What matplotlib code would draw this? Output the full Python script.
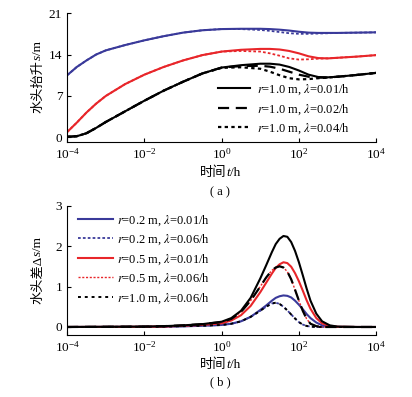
import numpy as np
import matplotlib
matplotlib.use("Agg")
import matplotlib.pyplot as plt

plt.rcParams['font.family'] = ['Liberation Serif', 'Noto Sans CJK SC']
plt.rcParams['mathtext.fontset'] = 'stix'
plt.rcParams['font.size'] = 9

BLUE = "#3a3a9a"
RED = "#e8262a"

# ---- panel (a): head rise s (m) vs log10 t
xa = [-4, -3.75, -3.5, -3.25, -3, -2.5, -2, -1.5, -1, -0.5, 0, 0.5, 1, 1.25, 1.5,
      1.75, 2, 2.25, 2.5, 2.75, 3, 3.5, 4]
a_blue = [10.5, 11.9, 13.0, 14.0, 14.7, 15.6, 16.4, 17.1, 17.7, 18.1, 18.3, 18.35, 18.35,
          18.3, 18.2, 18.05, 17.85, 17.7, 17.65, 17.65, 17.65, 17.7, 17.75]
a_blue_dot = [10.5, 11.9, 13.0, 14.0, 14.7, 15.6, 16.4, 17.1, 17.7, 18.1, 18.3, 18.3, 18.15,
              18.0, 17.8, 17.6, 17.5, 17.5, 17.55, 17.6, 17.65, 17.7, 17.75]
a_red = [0.9, 2.5, 4.2, 5.7, 7.0, 9.0, 10.6, 11.9, 13.0, 13.9, 14.5, 14.8, 14.95,
         14.95, 14.85, 14.6, 14.2, 13.7, 13.4, 13.35, 13.45, 13.65, 13.9]
a_red_dot = [0.9, 2.5, 4.2, 5.7, 7.0, 9.0, 10.6, 11.9, 13.0, 13.9, 14.5, 14.6, 14.5,
             14.2, 13.8, 13.35, 13.15, 13.2, 13.3, 13.35, 13.45, 13.65, 13.9]
a_k001 = [0.1, 0.2, 0.7, 1.6, 2.6, 4.4, 6.2, 7.9, 9.4, 10.8, 11.8, 12.2, 12.45,
          12.45, 12.3, 11.9, 11.3, 10.6, 10.2, 10.15, 10.25, 10.55, 10.9]
a_k002 = [0.1, 0.2, 0.7, 1.6, 2.6, 4.4, 6.2, 7.9, 9.4, 10.8, 11.8, 12.05, 12.1,
          11.95, 11.6, 11.1, 10.6, 10.25, 10.1, 10.1, 10.25, 10.55, 10.9]
a_k004 = [0.1, 0.2, 0.7, 1.6, 2.6, 4.4, 6.2, 7.9, 9.4, 10.8, 11.75, 11.85, 11.6,
          11.1, 10.5, 10.0, 9.8, 9.85, 10.0, 10.1, 10.25, 10.55, 10.9]

# ---- panel (b): head difference Δs (m) vs log10 t
xb = [-4, -2, -1.5, -1, -0.5, 0, 0.25, 0.5, 0.75, 1, 1.15, 1.3, 1.4, 1.5, 1.6, 1.7,
      1.8, 1.9, 2, 2.1, 2.2, 2.3, 2.45, 2.6, 2.8, 3, 3.5, 4]
b_k_sol = [0, 0.01, 0.02, 0.04, 0.07, 0.13, 0.22, 0.4, 0.72, 1.2, 1.52, 1.85, 2.05, 2.18,
           2.25, 2.23, 2.1, 1.88, 1.6, 1.28, 0.95, 0.65, 0.33, 0.14, 0.04, 0.01, 0, 0]
b_red = [0, 0.005, 0.01, 0.03, 0.05, 0.09, 0.16, 0.29, 0.52, 0.86, 1.09, 1.32, 1.46, 1.55,
         1.6, 1.58, 1.49, 1.33, 1.13, 0.9, 0.66, 0.45, 0.22, 0.09, 0.025, 0.005, 0, 0]
b_blue = [0, 0.003, 0.006, 0.015, 0.03, 0.05, 0.08, 0.14, 0.25, 0.42, 0.53, 0.65, 0.72, 0.76,
          0.78, 0.77, 0.73, 0.65, 0.55, 0.44, 0.32, 0.22, 0.11, 0.04, 0.01, 0.002, 0, 0]
b_k_dash = [0, 0.01, 0.02, 0.04, 0.07, 0.12, 0.2, 0.37, 0.65, 1.0, 1.22, 1.4, 1.47, 1.5,
            1.47, 1.37, 1.18, 0.92, 0.65, 0.4, 0.2, 0.08, 0.02, 0, 0, 0, 0, 0]
b_dot_small = [0, 0.005, 0.01, 0.02, 0.03, 0.05, 0.08, 0.14, 0.25, 0.4, 0.5, 0.58, 0.6, 0.57,
               0.5, 0.41, 0.31, 0.21, 0.12, 0.06, 0.025, 0.01, 0, 0, 0, 0, 0, 0]

fig = plt.figure(figsize=(4.12, 3.97), dpi=100)
ax1 = fig.add_axes([0.163, 0.642, 0.750, 0.325])
ax2 = fig.add_axes([0.163, 0.156, 0.750, 0.326])

t_a = 10.0 ** np.array(xa)
t_b = 10.0 ** np.array(xb)

lw = 1.5
ax1.plot(t_a, a_blue, color=BLUE, lw=lw)
ax1.plot(t_a, a_blue_dot, color=BLUE, lw=1.3, ls=(0, (1.5, 1.2)))
ax1.plot(t_a, a_red, color=RED, lw=lw)
ax1.plot(t_a, a_red_dot, color=RED, lw=1.3, ls=(0, (1.5, 1.2)))
ax1.plot(t_a, a_k004, color="black", lw=1.6, ls=(0, (1.5, 1.5)),
         label=r"$r$=1.0 m, $\lambda$=0.04/h")
ax1.plot(t_a, a_k002, color="black", lw=1.6, ls=(0, (5, 3)),
         label=r"$r$=1.0 m, $\lambda$=0.02/h")
ax1.plot(t_a, a_k001, color="black", lw=lw, label=r"$r$=1.0 m, $\lambda$=0.01/h")
h, l = ax1.get_legend_handles_labels()
ax1.legend(h[::-1], l[::-1], loc="lower right", bbox_to_anchor=(0.95, -0.04),
           frameon=False, fontsize=9, handlelength=2.6, labelspacing=0.4,
           handletextpad=0.5)
ax1.set_ylim(-0.8, 21)
ax1.set_yticks([0, 7, 14, 21])

ax2.plot(t_b, b_blue, color=BLUE, lw=lw, label=r"$r$=0.2 m, $\lambda$=0.01/h")
ax2.plot(t_b, b_dot_small, color=BLUE, lw=1.3, ls=(0, (1.5, 1.2)),
         label=r"$r$=0.2 m, $\lambda$=0.06/h")
ax2.plot(t_b, b_red, color=RED, lw=lw, label=r"$r$=0.5 m, $\lambda$=0.01/h")
ax2.plot(t_b, b_k_dash, color=RED, lw=1.0, ls=(0, (1.5, 1.2)),
         label=r"$r$=0.5 m, $\lambda$=0.06/h")
ax2.plot(t_b, b_dot_small, color="black", lw=1.4, ls=(0, (1.5, 2)),
         label=r"$r$=1.0 m, $\lambda$=0.06/h")
ax2.plot(t_b, b_k_dash, color="black", lw=1.6, ls=(0, (5, 3)))
ax2.plot(t_b, b_k_sol, color="black", lw=lw)
ax2.legend(loc="upper left", bbox_to_anchor=(0.0, 1.03), frameon=False, fontsize=9,
           handlelength=2.8, labelspacing=0.4, handletextpad=0.3)
ax2.set_ylim(-0.2, 3)
ax2.set_yticks([0, 1, 2, 3])

for ax in (ax1, ax2):
    ax.set_xscale("log")
    ax.set_xlim(1e-4, 1e4)
    ax.set_xticks([1e-4, 1e-2, 1e0, 1e2, 1e4])
    ax.minorticks_off()
    ax.spines["top"].set_visible(False)
    ax.spines["right"].set_visible(False)
    ax.tick_params(direction="in", length=3, labelsize=9.5, width=0.8)


def mixed_label(x, y, parts, rotation=0, size=9.5):
    # lay text pieces end to end (CJK + italic latin), centred on (x, y)
    r = fig.canvas.get_renderer()
    texts = [fig.text(0, 0, s, rotation=rotation, rotation_mode="anchor",
                      ha="left", va="baseline", style=st, fontsize=size)
             for s, st in parts]
    lens = []
    for t in texts:
        bb = t.get_window_extent(r)
        lens.append(bb.width if rotation == 0 else bb.height)
    W, H = fig.bbox.width, fig.bbox.height
    pos = -sum(lens) / 2
    for t, L in zip(texts, lens):
        if rotation == 0:
            t.set_position((x + pos / W, y))
        else:
            t.set_position((x, y + pos / H))
        pos += L


xlab = [("时间", "normal"), ("t", "italic"), ("/h", "normal")]
mixed_label(0.535, 0.557, xlab)
mixed_label(0.535, 0.073, xlab)
mixed_label(0.100, 0.805, [("水头抬升", "normal"), ("s", "italic"), ("/m", "normal")],
            rotation=90)
mixed_label(0.100, 0.318, [("水头差Δ", "normal"), ("s", "italic"), ("/m", "normal")],
            rotation=90)

fig.text(0.535, 0.516, "( a )", ha="center", va="center", fontsize=9)
fig.text(0.535, 0.038, "( b )", ha="center", va="center", fontsize=9)

plt.savefig("out.png", dpi=100)
plt.close()
